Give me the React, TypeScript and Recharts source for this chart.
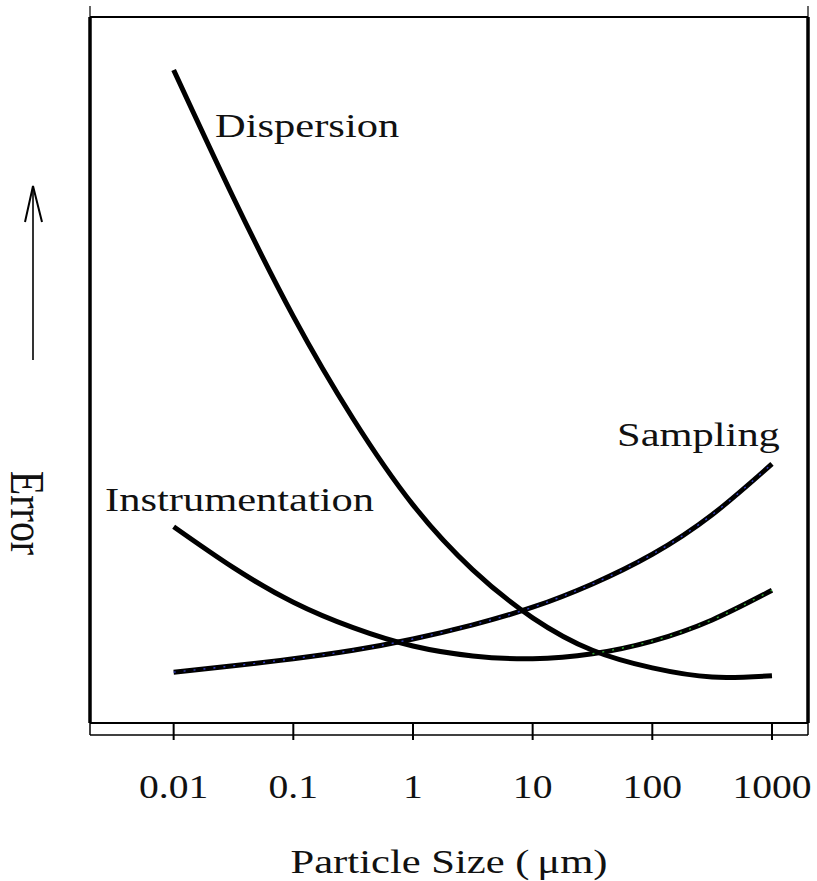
import { Label, Line, LineChart, ReferenceDot, XAxis, YAxis } from "recharts";

// particle size (µm), read at every half decade
const SIZES = [0.01, 0.0316, 0.1, 0.316, 1, 3.16, 10, 31.6, 100, 316, 1000];
// error in arbitrary units, 0 = bottom of the frame, 100 = top
const DISPERSION = [92.5, 74.4, 57.6, 43.1, 30.9, 21.7, 14.9, 10.3, 7.8, 6.5, 6.7];
const INSTRUMENTATION = [27.8, 22.0, 17.1, 13.5, 10.9, 9.5, 9.1, 9.8, 11.6, 14.6, 18.8];
const SAMPLING = [7.2, 8.1, 9.1, 10.3, 11.9, 13.9, 16.4, 19.7, 23.9, 29.5, 36.7];

const SIZE_TICKS = [0.01, 0.1, 1, 10, 100, 1000];
const SIZE_DOMAIN = [0.002, 2000];
const ERROR_DOMAIN = [0, 100];

const CURVE_LABELS = [
  { text: "Dispersion", size: 0.0222, error: 83.0 },
  { text: "Instrumentation", size: 0.00267, error: 30.0 },
  { text: "Sampling", size: 50.7, error: 39.2 },
];

const SERIF = "'Liberation Serif', 'Times New Roman', serif";

const data = SIZES.map((size, i) => ({
  size,
  dispersion: DISPERSION[i],
  instrumentation: INSTRUMENTATION[i],
  sampling: SAMPLING[i],
  instrumentationTail: size >= 31.6 ? INSTRUMENTATION[i] : null,
}));

function SizeTick(props: any) {
  const { x, y, payload } = props;
  const v = payload.value;
  if (v < 0.005 || v > 1500) {
    // end caps joining the frame to the lower axis line
    return <line x1={x} x2={x} y1={y - 12} y2={y} stroke="#000" strokeWidth={1.5} />;
  }
  return (
    <g>
      <line x1={x} x2={x} y1={y - 12} y2={y + 5} stroke="#000" strokeWidth={2} />
      <text
        transform={`translate(${x},${y + 63}) scale(1.2,1)`}
        textAnchor="middle"
        fontFamily={SERIF}
        fontSize={33}
        fill="#111"
      >
        {String(v)}
      </text>
    </g>
  );
}

function SizeTitle(props: any) {
  const vb = props.viewBox || { x: 90, y: 735, width: 718 };
  const cx = vb.x + vb.width / 2;
  return (
    <text
      x={cx}
      y={vb.y + 138}
      textAnchor="middle"
      fontFamily={SERIF}
      fontSize={33}
      fill="#111"
      textLength={317}
      lengthAdjust="spacingAndGlyphs"
    >
      Particle Size (<tspan dx={6}>μm)</tspan>
    </text>
  );
}

function ErrorTitle(props: any) {
  const vb = props.viewBox || { x: 0, y: 17 };
  const ax = vb.x + 33;
  const top = vb.y + 169;
  return (
    <g>
      <line x1={ax} x2={ax} y1={top} y2={top + 174} stroke="#000" strokeWidth={1.6} />
      <path
        d={`M ${ax - 8} ${top + 36} L ${ax} ${top} L ${ax + 9} ${top + 36}`}
        fill="none"
        stroke="#000"
        strokeWidth={2}
      />
      <text
        transform={`translate(${vb.x + 11},${vb.y + 496}) rotate(90) scale(1,1.2)`}
        textAnchor="middle"
        fontFamily={SERIF}
        fontSize={40}
        fill="#111"
      >
        Error
      </text>
    </g>
  );
}

function CurveLabel(text: string) {
  return (props: any) => {
    const vb = props.viewBox || { x: 0, y: 0 };
    return (
      <text
        transform={`translate(${vb.x},${vb.y}) scale(1.25,1)`}
        fontFamily={SERIF}
        fontSize={34}
        fill="#111"
      >
        {text}
      </text>
    );
  };
}

export default function App() {
  return (
    <div style={{ position: "absolute", left: 0, top: 0, background: "#fff" }}>
      <LineChart width={817} height={881} data={data} margin={{ top: 0, right: 0, bottom: 0, left: 0 }}>
        <XAxis
          xAxisId="top"
          orientation="top"
          dataKey="size"
          type="number"
          scale="log"
          domain={SIZE_DOMAIN}
          allowDataOverflow
          ticks={[0.002, 2000]}
          interval={0}
          height={17}
          tickSize={11}
          tickLine={{ stroke: "#000", strokeWidth: 1.2 }}
          tick={() => <g />}
          axisLine={{ stroke: "#000", strokeWidth: 2 }}
        />
        <XAxis
          xAxisId="box"
          dataKey="size"
          type="number"
          scale="log"
          domain={SIZE_DOMAIN}
          allowDataOverflow
          height={12}
          tick={false}
          tickLine={false}
          axisLine={{ stroke: "#000", strokeWidth: 2 }}
        />
        <XAxis
          xAxisId="main"
          dataKey="size"
          type="number"
          scale="log"
          domain={SIZE_DOMAIN}
          allowDataOverflow
          ticks={[0.002, ...SIZE_TICKS, 2000]}
          interval={0}
          height={146}
          tickSize={0}
          tickMargin={0}
          tickLine={false}
          tick={<SizeTick />}
          axisLine={{ stroke: "#000", strokeWidth: 1.5 }}
        >
          <Label content={<SizeTitle />} />
        </XAxis>
        <YAxis
          yAxisId="left"
          type="number"
          domain={ERROR_DOMAIN}
          allowDataOverflow
          width={90}
          tick={false}
          tickLine={false}
          axisLine={{ stroke: "#000", strokeWidth: 3.5 }}
        >
          <Label content={<ErrorTitle />} />
        </YAxis>
        <YAxis
          yAxisId="right"
          orientation="right"
          type="number"
          domain={ERROR_DOMAIN}
          allowDataOverflow
          width={9}
          tick={false}
          tickLine={false}
          axisLine={{ stroke: "#000", strokeWidth: 3.5 }}
        />

        <Line xAxisId="main" yAxisId="left" type="natural" dataKey="dispersion" stroke="#000" strokeWidth={5} dot={false} isAnimationActive={false} />
        <Line xAxisId="main" yAxisId="left" type="natural" dataKey="instrumentation" stroke="#000" strokeWidth={5} dot={false} isAnimationActive={false} />
        <Line xAxisId="main" yAxisId="left" type="natural" dataKey="sampling" stroke="#000" strokeWidth={5} dot={false} isAnimationActive={false} />
        <Line xAxisId="main" yAxisId="left" type="natural" dataKey="sampling" stroke="#3340c8" strokeWidth={1.4} strokeDasharray="2 8" dot={false} isAnimationActive={false} />
        <Line xAxisId="main" yAxisId="left" type="natural" dataKey="instrumentationTail" stroke="#2fa82f" strokeWidth={1.4} strokeDasharray="2 8" dot={false} connectNulls={false} isAnimationActive={false} />

        {CURVE_LABELS.map((l) => (
          <ReferenceDot
            key={l.text}
            xAxisId="main"
            yAxisId="left"
            x={l.size}
            y={l.error}
            r={0}
            fill="none"
            stroke="none"
            label={{ content: CurveLabel(l.text) }}
          />
        ))}
      </LineChart>
    </div>
  );
}
